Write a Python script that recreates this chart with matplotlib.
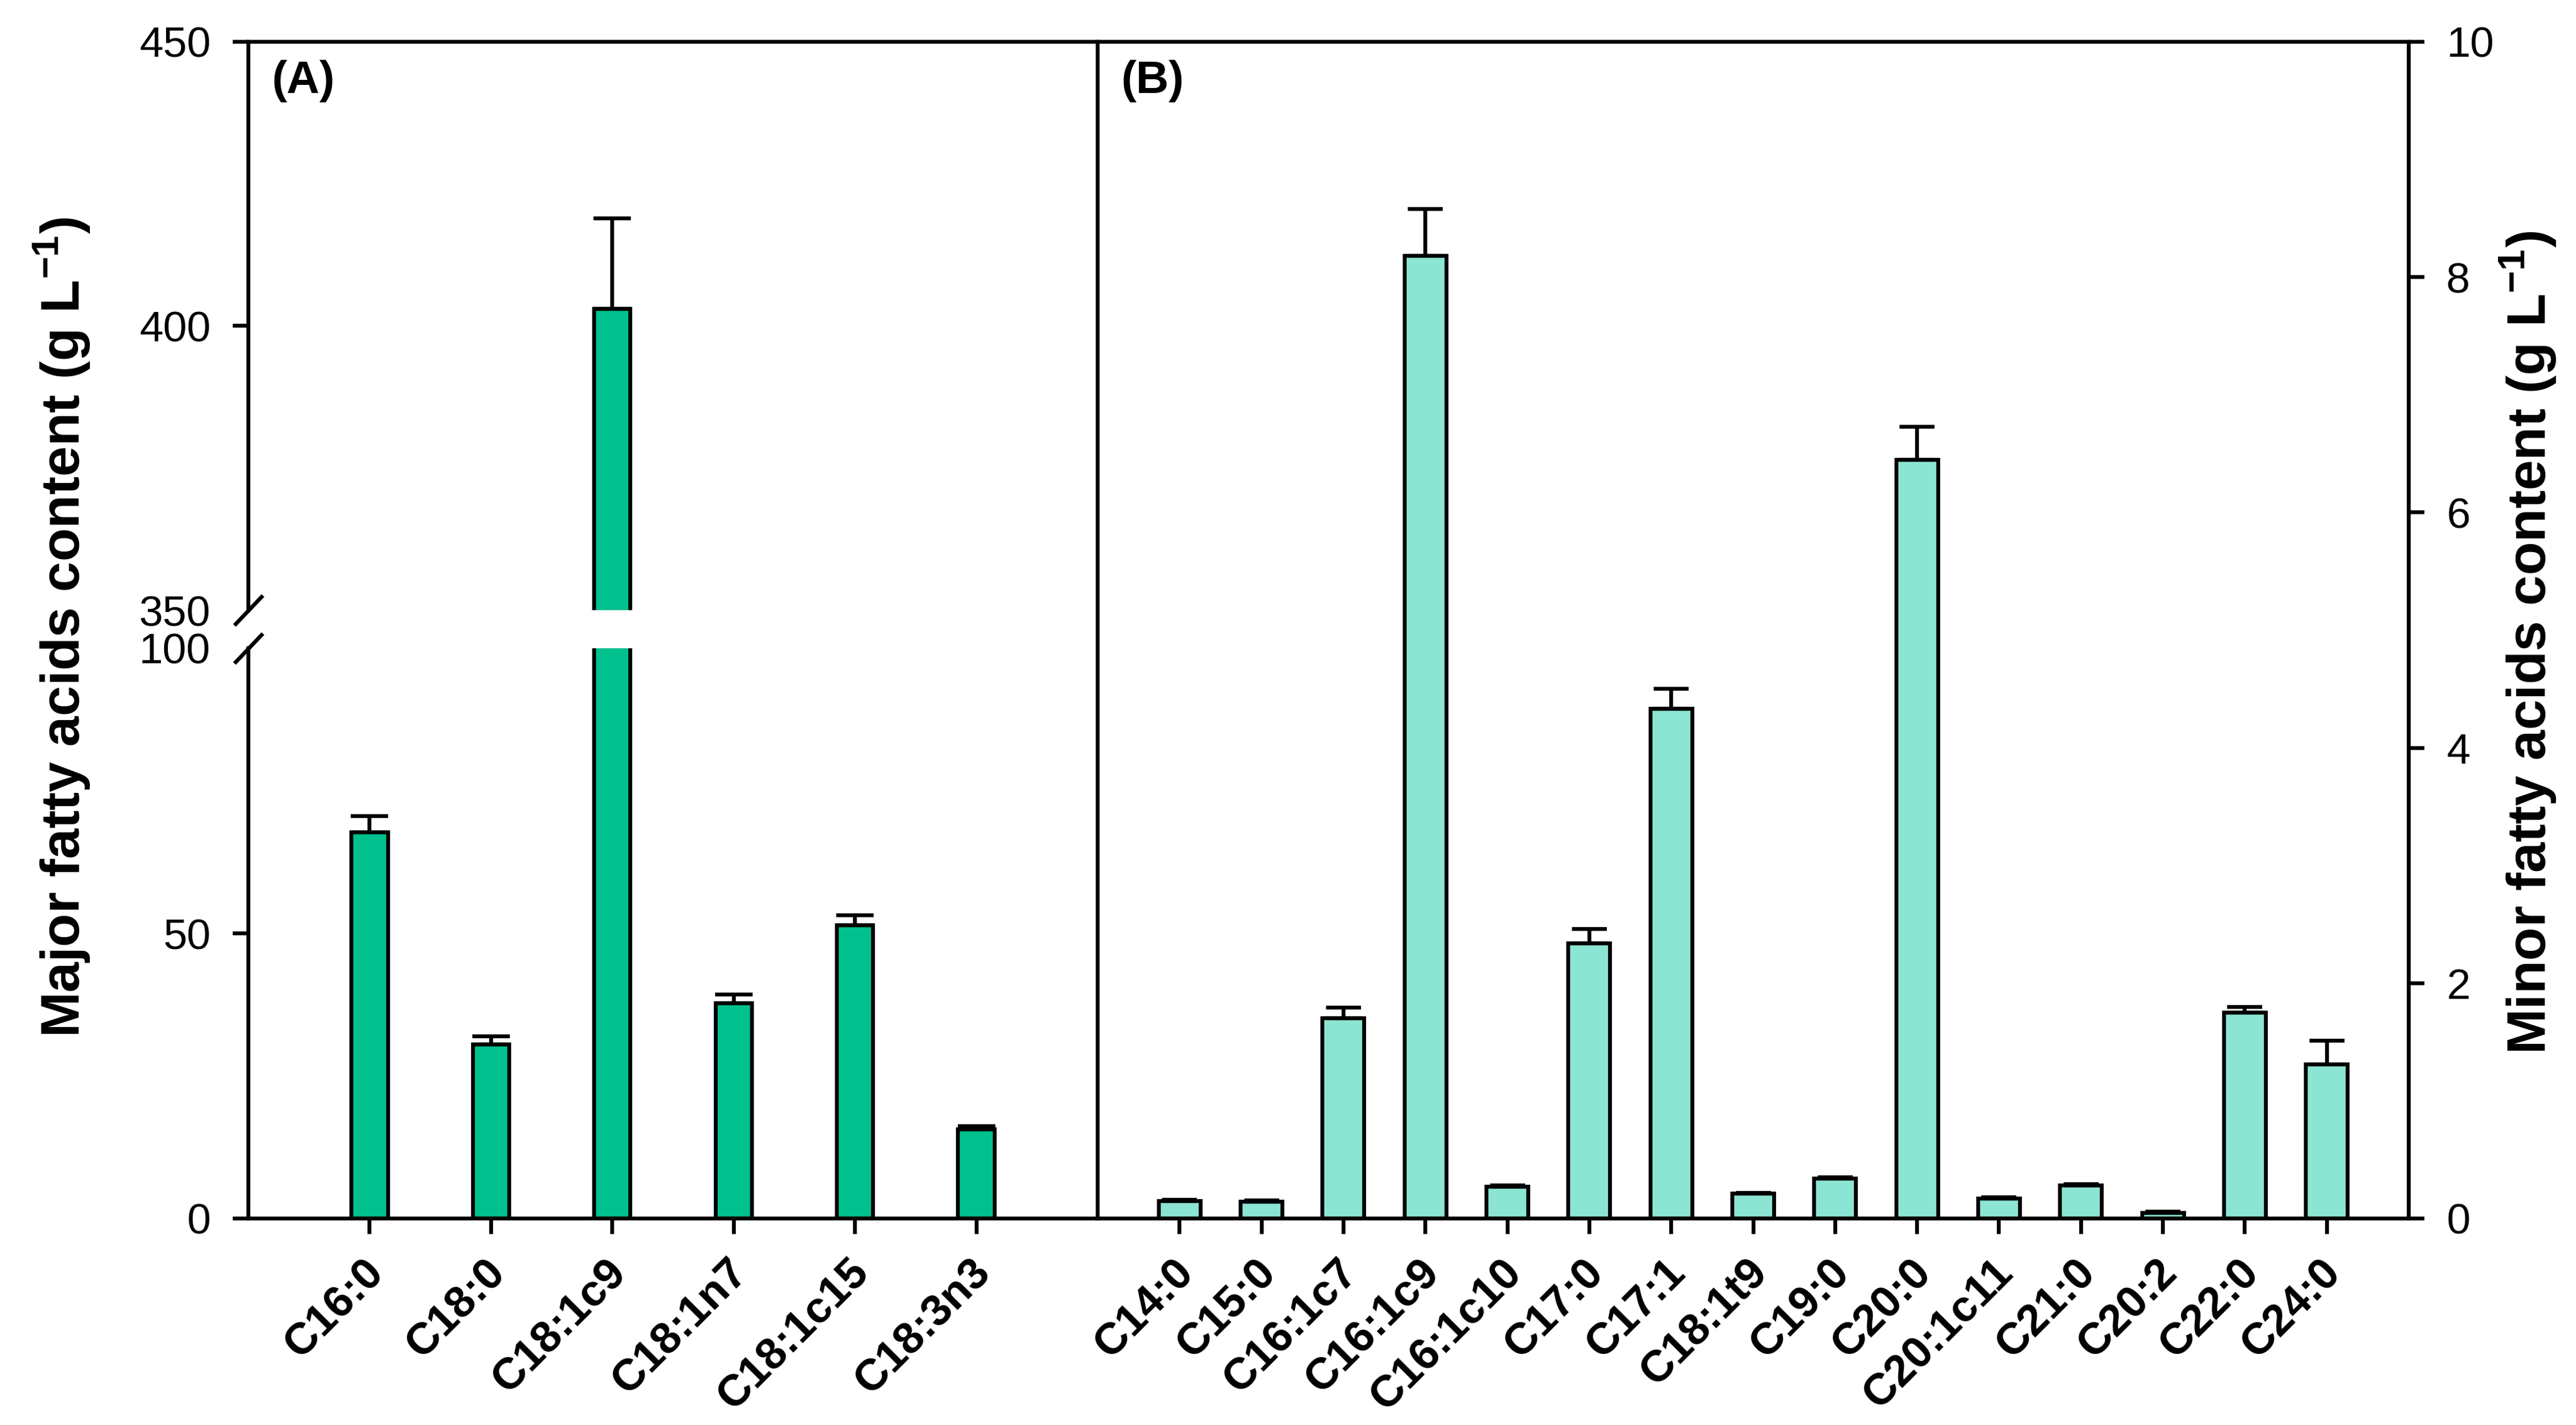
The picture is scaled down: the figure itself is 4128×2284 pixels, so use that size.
import matplotlib
matplotlib.use('Agg')
import matplotlib.pyplot as plt
from matplotlib.transforms import ScaledTranslation
import numpy as np

# ---------------- data ----------------
major_labels = ['C16:0', 'C18:0', 'C18:1c9', 'C18:1n7', 'C18:1c15', 'C18:3n3']
major_values = [67.7, 30.5, 403.0, 37.8, 51.4, 15.7]
major_errors = [2.9, 1.5, 15.9, 1.5, 1.8, 0.5]

minor_labels = ['C14:0', 'C15:0', 'C16:1c7', 'C16:1c9', 'C16:1c10', 'C17:0', 'C17:1',
                'C18:1t9', 'C19:0', 'C20:0', 'C20:1c11', 'C21:0', 'C20:2', 'C22:0', 'C24:0']
minor_values = [0.15, 0.145, 1.70, 8.18, 0.27, 2.34, 4.33, 0.21, 0.34, 6.45, 0.17, 0.28, 0.05, 1.75, 1.31]
minor_errors = [0.01, 0.01, 0.09, 0.40, 0.01, 0.12, 0.17, 0.01, 0.01, 0.28, 0.01, 0.01, 0.01, 0.05, 0.20]

lower_ticks = [0, 50, 100]
upper_ticks = [350, 400, 450]
minor_ticks = [0, 2, 4, 6, 8, 10]

major_color = '#00C18E'
minor_color = '#8CE5D3'

# ---------------- style ----------------
plt.rcParams['font.family'] = ['Liberation Sans', 'DejaVu Sans']
plt.rcParams['mathtext.fontset'] = 'custom'
plt.rcParams['mathtext.rm'] = 'Liberation Sans:bold'
plt.rcParams['mathtext.bf'] = 'Liberation Sans:bold'
plt.rcParams['mathtext.it'] = 'Liberation Sans:bold'
plt.rcParams['mathtext.default'] = 'bf'

LW = 1.5
W, H = 4128, 2284
DPI = 300
fig = plt.figure(figsize=(W / DPI, H / DPI), dpi=DPI)


def fx(px):
    return px / W


def fy(py):
    return 1 - py / H


x_left, x_div, x_right = 398, 1759, 3860
y_top, y_brk_up, y_brk_lo, y_bot = 67, 978, 1039, 1953

ax_up = fig.add_axes([fx(x_left), fy(y_brk_up), fx(x_div) - fx(x_left), fy(y_top) - fy(y_brk_up)])
ax_lo = fig.add_axes([fx(x_left), fy(y_bot), fx(x_div) - fx(x_left), fy(y_brk_lo) - fy(y_bot)])
ax_r = fig.add_axes([fx(x_div), fy(y_bot), fx(x_right) - fx(x_div), fy(y_top) - fy(y_bot)])

xm = np.arange(len(major_labels))
xn = np.arange(len(minor_labels))

err_kw = dict(ecolor='k', elinewidth=LW, capthick=LW)

for ax in (ax_up, ax_lo):
    ax.bar(xm, major_values, width=0.30, color=major_color, edgecolor='k', linewidth=LW,
           yerr=[np.zeros(len(major_values)), major_errors],
           error_kw=dict(capsize=7.2, **err_kw))
    ax.set_xlim(-1, len(major_labels))
    for s in ax.spines.values():
        s.set_linewidth(LW)
    ax.spines['right'].set_visible(False)
    ax.tick_params(axis='y', direction='out', length=6, width=LW, labelsize=16.5, pad=8.5)

ax_up.set_ylim(350, 450)
ax_up.set_yticks(upper_ticks)
ax_up.spines['bottom'].set_visible(False)
ax_up.tick_params(axis='x', bottom=False, labelbottom=False)

ax_lo.set_ylim(0, 100)
ax_lo.set_yticks(lower_ticks)
ax_lo.spines['top'].set_visible(False)
ax_lo.set_xticks(xm)
ax_lo.set_xticklabels(major_labels)
ax_lo.tick_params(axis='x', direction='out', length=6, width=LW, pad=12.5)

# hide tick marks at the break
ax_up.yaxis.get_major_ticks()[0].tick1line.set_visible(False)
ax_lo.yaxis.get_major_ticks()[-1].tick1line.set_visible(False)

# break marks
d = dict(marker=[(-1, -1.05), (1, 1.05)], markersize=11.5, linestyle='none', color='k',
         mec='k', mew=LW, clip_on=False)
ax_up.plot([0], [0], transform=ax_up.transAxes, **d)
ax_lo.plot([0], [1], transform=ax_lo.transAxes, **d)

# right panel
ax_r.bar(xn, minor_values, width=0.51, color=minor_color, edgecolor='k', linewidth=LW,
         yerr=[np.zeros(len(minor_values)), minor_errors],
         error_kw=dict(capsize=6.7, **err_kw))
ax_r.set_xlim(-1, len(minor_labels))
ax_r.set_ylim(0, 10)
ax_r.set_yticks(minor_ticks)
for s in ax_r.spines.values():
    s.set_linewidth(LW)
ax_r.yaxis.tick_right()
ax_r.tick_params(axis='y', direction='out', length=6, width=LW, labelsize=16.5, pad=8.5,
                 left=False, right=True)
ax_r.set_xticks(xn)
ax_r.set_xticklabels(minor_labels)
ax_r.tick_params(axis='x', direction='out', length=6, width=LW, pad=12.5)

offset = ScaledTranslation(3 / 72, 0, fig.dpi_scale_trans)
for ax in (ax_lo, ax_r):
    for lab in ax.get_xticklabels():
        lab.set_rotation(45)
        lab.set_ha('right')
        lab.set_va('center')
        lab.set_rotation_mode('anchor')
        lab.set_fontweight('bold')
        lab.set_fontsize(17)
        lab.set_transform(lab.get_transform() + offset)

# axis titles
fig.text(fx(100), fy(1005), 'Major fatty acids content (g L$^{-1}$)', rotation=90,
         ha='center', va='center', fontsize=21, fontweight='bold')
fig.text(fx(4052), fy(1030), 'Minor fatty acids content (g L$^{-1}$)', rotation=90,
         ha='center', va='center', fontsize=21, fontweight='bold')

# panel labels
fig.text(fx(435), fy(96), '(A)', ha='left', va='top', fontsize=17.5, fontweight='bold')
fig.text(fx(1796), fy(96), '(B)', ha='left', va='top', fontsize=17.5, fontweight='bold')

fig.savefig('out.png', dpi=DPI)
